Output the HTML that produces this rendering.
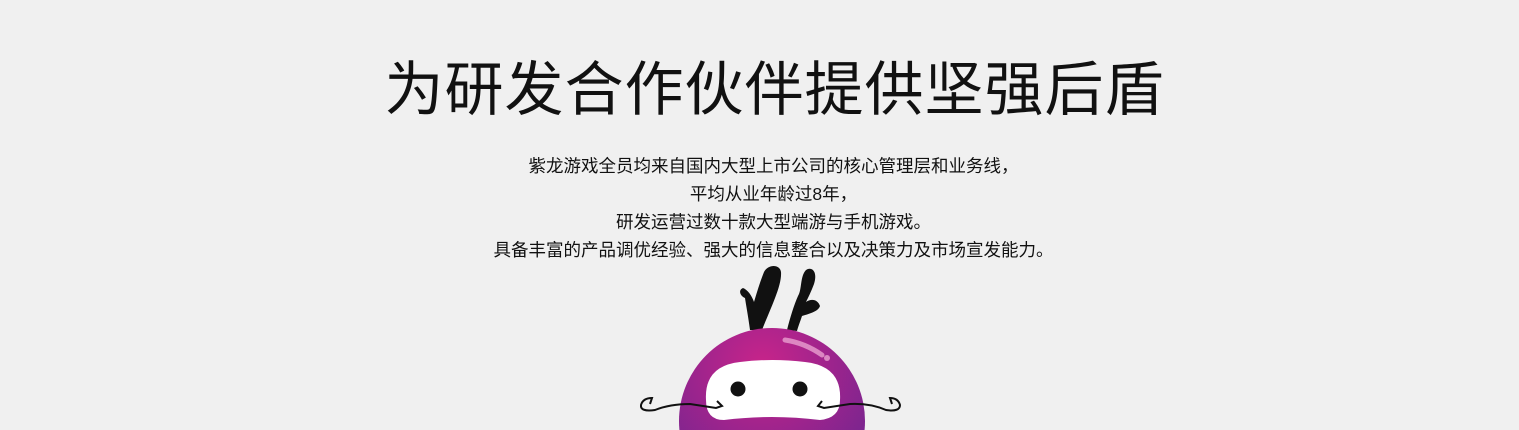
<!DOCTYPE html>
<html><head><meta charset="utf-8"><style>
html,body{margin:0;padding:0;width:1519px;height:430px;overflow:hidden;background:#f0f0f0;}
body{position:relative;font-family:"Liberation Sans","Noto Sans CJK SC",sans-serif;color:#111;}
h1{position:absolute;top:50px;left:15px;width:1519px;margin:0;text-align:center;font-weight:400;font-size:59px;line-height:80px;letter-spacing:1px;white-space:nowrap;}
.desc{position:absolute;top:152px;left:14px;width:1519px;text-align:center;font-size:17.5px;line-height:28px;white-space:nowrap;}
svg{position:absolute;left:0;top:0;}
</style></head><body>
<h1>为研发合作伙伴提供坚强后盾</h1>
<div class="desc">
紫龙游戏全员均来自国内大型上市公司的核心管理层和业务线，<br>
平均从业年龄过8年，<br>
研发运营过数十款大型端游与手机游戏。<br>
具备丰富的产品调优经验、强大的信息整合以及决策力及市场宣发能力。
</div>
<svg width="1519" height="430">
<defs><radialGradient id="g" cx="0.45" cy="0.2" r="0.8"><stop offset="0" stop-color="#c8248a"/><stop offset="1" stop-color="#6a2590"/></radialGradient></defs>
<g fill="#111">
<path d="M750 330 C748 315 746 305 745 298 C740 296 738 290 743 288 C748 290 752 296 754 302 C757 292 760 282 764 272 C768 264 780 264 781 272 C782 285 772 305 762 330 Z"/>
<path d="M787 330 C790 318 794 305 798 296 C802 290 800 276 806 270 C812 266 818 272 814 284 C811 292 808 298 806 302 C812 298 818 300 820 306 C818 312 808 314 802 316 C800 322 798 327 797 331 Z"/>
</g>
<circle cx="772" cy="421" r="93" fill="url(#g)"/>
<path d="M785 340 Q805 343 822 355" stroke="#e9a0d0" stroke-width="5" stroke-linecap="round" fill="none" opacity="0.8"/>
<circle cx="827" cy="358" r="3" fill="#e9a0d0" opacity="0.8"/>
<path d="M706 400 Q704 366 740 362 Q772 358 805 362 Q842 366 840 400 Q840 418 820 420 Q772 414 724 420 Q706 420 706 400 Z" fill="#fff"/>
<circle cx="738" cy="389" r="7.5" fill="#111"/>
<circle cx="800" cy="389" r="7.5" fill="#111"/>
<g stroke="#111" stroke-width="2" fill="none">
<path d="M717 401 L722 406 L716 408 L690 404 Q670 404 655 410 Q640 412 641 405 Q643 398 652 398 L650 404"/>
<path d="M822 401 L818 406 L824 408 L850 404 Q870 403 886 410 Q900 412 900 405 Q898 398 890 398 L892 404"/>
</g>
</svg>
</body></html>
